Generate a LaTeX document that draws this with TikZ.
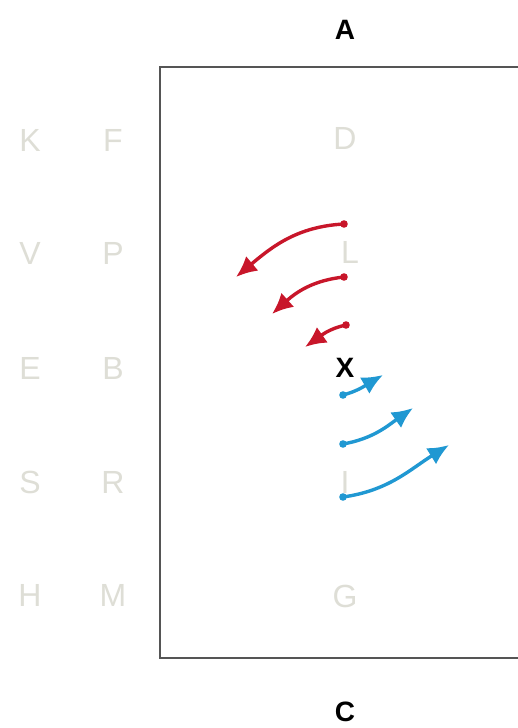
\documentclass[tikz,border=0pt]{standalone}
\usepackage{fontspec}
\setmainfont{Liberation Sans}
\usetikzlibrary{arrows.meta}
\definecolor{faint}{RGB}{222,222,214}
\definecolor{arrred}{RGB}{200,22,42}
\definecolor{arrblue}{RGB}{32,152,210}
\definecolor{boxgray}{RGB}{85,85,85}
\tikzset{
  faintlbl/.style={text=faint,font=\fontsize{32}{32}\selectfont,inner sep=0pt},
  darklbl/.style={text=black,font=\bfseries\fontsize{28}{28}\selectfont,inner sep=0pt},
  redarr/.style={draw=arrred,line width=3.4pt,-{Latex[length=21pt,width=19pt]}},
  bluearr/.style={draw=arrblue,line width=3.4pt,-{Latex[length=21pt,width=19pt]}},
  arena/.style={draw=boxgray,line width=2.4pt}
}
\begin{document}
\begin{tikzpicture}[x=1pt,y=-1pt]
\useasboundingbox (0,0) rectangle (517,728);
\fill[white] (0,0) rectangle (517,728);
% arena box (continues past right edge)
\draw[arena] (530,67) -- (160,67) -- (160,658) -- (530,658);
% outer labels
\node[darklbl] (A) at (345,30) {A};
\node[darklbl] (C) at (345,712) {C};
% faint letters
\node[faintlbl] (K) at (30,140) {K};
\node[faintlbl] (F) at (113,140) {F};
\node[faintlbl] (V) at (30,253) {V};
\node[faintlbl] (P) at (113,253) {P};
\node[faintlbl] (E) at (30,368) {E};
\node[faintlbl] (B) at (113,368) {B};
\node[faintlbl] (S) at (30,482) {S};
\node[faintlbl] (R) at (113,482) {R};
\node[faintlbl] (H) at (30,595) {H};
\node[faintlbl] (M) at (113,595) {M};
\node[faintlbl] (D) at (345,138) {D};
\node[faintlbl] (L) at (350,252) {L};
\node[faintlbl] (I) at (345,482) {I};
\node[faintlbl] (G) at (345,596) {G};
\node[darklbl] (X) at (345,368) {X};
% arrow endpoints
\coordinate (r1s) at (344,224);
\coordinate (r1e) at (236,277);
\coordinate (r2s) at (344,277);
\coordinate (r2e) at (272,314);
\coordinate (r3s) at (346,325);
\coordinate (r3e) at (305,347);
\coordinate (b1s) at (343,395);
\coordinate (b1e) at (383,375);
\coordinate (b2s) at (343,444);
\coordinate (b2e) at (413,408);
\coordinate (b3s) at (343,497);
\coordinate (b3e) at (449,445);
% red arrows
\draw[redarr] (r1s) to[out=183,in=40] (r1e);
\draw[redarr] (r2s) to[out=186,in=42] (r2e);
\draw[redarr] (r3s) to[out=192,in=35] (r3e);
\fill[arrred] (r1s) circle[radius=3.8pt] (r2s) circle[radius=3.8pt] (r3s) circle[radius=3.8pt];
% blue arrows
\draw[bluearr] (b1s) to[out=15,in=210] (b1e);
\draw[bluearr] (b2s) to[out=10,in=215] (b2e);
\draw[bluearr] (b3s) to[out=8,in=212] (b3e);
\fill[arrblue] (b1s) circle[radius=3.8pt] (b2s) circle[radius=3.8pt] (b3s) circle[radius=3.8pt];
\end{tikzpicture}
\end{document}
